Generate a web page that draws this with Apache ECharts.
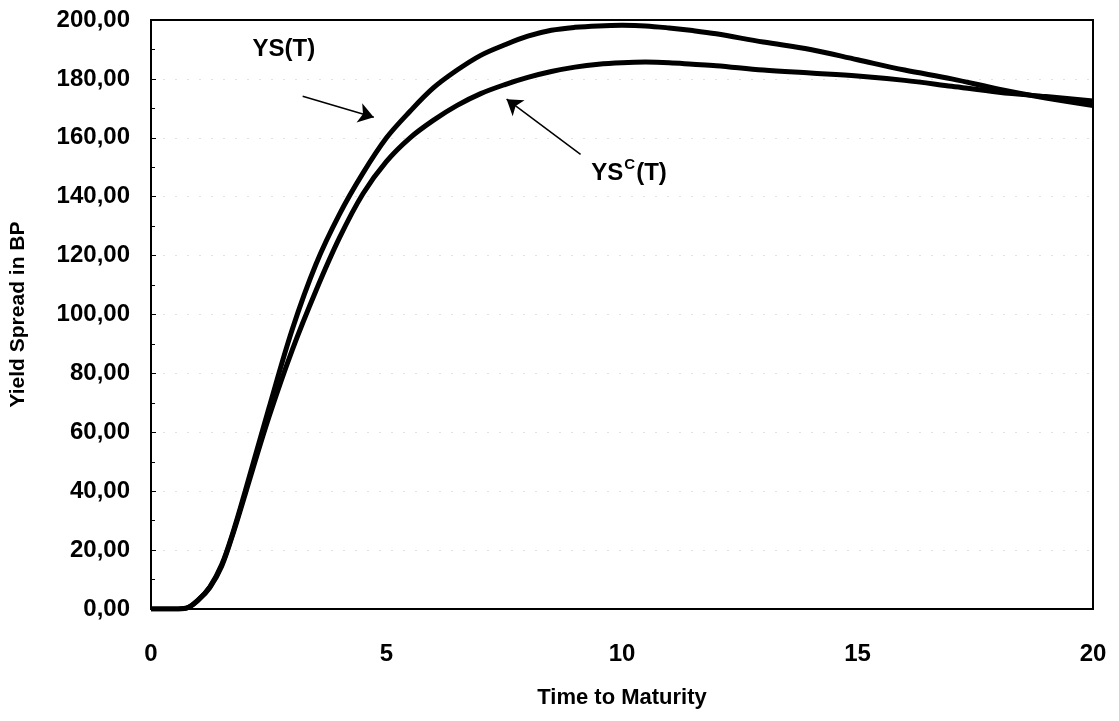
<!DOCTYPE html>
<html>
<head>
<meta charset="utf-8">
<script src="https://cdn.jsdelivr.net/npm/echarts@6/dist/echarts.min.js"></script>
<style>
html,body{margin:0;padding:0;background:#fff;}
#c{width:1119px;height:721px;}
</style>
</head>
<body>
<div id="c"></div>
<script>
// Time to maturity (years)
var tValues = [0, 0.5, 0.75, 1.0, 1.25, 1.5, 1.75, 2.0, 2.5, 3.0, 3.5, 4.0, 4.5, 5.0, 5.5, 6.0, 6.5, 7.0, 7.5, 8.0, 8.5, 9.0, 9.5, 10, 10.5, 11, 11.5, 12, 13, 14, 15, 16, 17, 18, 19, 20];
// YS(T) - upper curve
var ysValues = [0, 0, 0.3, 3, 7.5, 15, 26.5, 40, 68, 95, 117, 134, 148, 160, 169, 177, 183, 188, 191.5, 194.5, 196.5, 197.5, 198, 198.2, 198, 197.3, 196.4, 195.3, 192.5, 190, 186.5, 183, 180, 176.5, 173.5, 171];
// YS^C(T) - lower curve
var yscValues = [0, 0, 0.3, 3, 7.3, 14.5, 26, 39, 65, 88, 108, 126, 141, 152, 160, 166, 171, 175, 178, 180.5, 182.5, 184, 185, 185.5, 185.7, 185.5, 185, 184.5, 183, 182, 181, 179.5, 177.5, 175.5, 174, 172.5];
var yTickLabels = ['0,00','20,00','40,00','60,00','80,00','100,00','120,00','140,00','160,00','180,00','200,00'];

// annotation anchors in data coordinates
var ysArrow = [[3.22, 174.1], [4.73, 167.0]];
var yscArrow = [[9.12, 154.4], [7.55, 173.1]];
var ysLabelPos = [2.82, 190.1];
var yscLabelPos = [10.15, 148.5];

function pairs(xs, ys){ return xs.map(function(x,i){ return [x, ys[i]]; }); }

var chart = echarts.init(document.getElementById('c'), null, {renderer:'canvas'});
var fontFam = '"Liberation Sans", Arial, sans-serif';
var arrowLine = function(p){
  return {
    silent: true,
    symbol: ['none', 'arrow'],
    symbolSize: 15,
    label: {show: false},
    lineStyle: {color: '#000', width: 1.5, type: 'solid'},
    emphasis: {disabled: true},
    animation: false,
    data: [[{coord: p[0]}, {coord: p[1]}]]
  };
};
chart.setOption({
  animation: false,
  backgroundColor: '#fff',
  grid: {left: 151, right: 26, top: 20, bottom: 112, show: true, borderColor: '#000', borderWidth: 2, backgroundColor: 'transparent'},
  xAxis: {
    type: 'value', min: 0, max: 20, interval: 5,
    name: 'Time to Maturity', nameLocation: 'middle', nameGap: 78,
    nameTextStyle: {fontFamily: fontFam, fontWeight: 'bold', fontSize: 22, color: '#000'},
    axisLine: {show: true, lineStyle: {color: '#000', width: 2}},
    axisTick: {show: false},
    axisLabel: {fontFamily: fontFam, fontWeight: 'bold', fontSize: 24, color: '#000', margin: 33},
    splitLine: {show: false}
  },
  yAxis: {
    type: 'value', min: 0, max: 200, interval: 20,
    name: 'Yield Spread in BP', nameLocation: 'middle', nameGap: 122, nameRotate: 90,
    nameTextStyle: {fontFamily: fontFam, fontWeight: 'bold', fontSize: 21, color: '#000'},
    axisLine: {show: true, lineStyle: {color: '#000', width: 2}},
    axisTick: {show: true, inside: true, length: 5, lineStyle: {color: '#000', width: 1}},
    minorTick: {show: true, splitNumber: 2, length: 4, lineStyle: {color: '#000', width: 1}},
    axisLabel: {fontFamily: fontFam, fontWeight: 'bold', fontSize: 24, color: '#000', margin: 21,
      formatter: function(v){ return yTickLabels[Math.round(v/20)]; }},
    splitLine: {show: true, showMinLine: false, showMaxLine: false, lineStyle: {color: '#e2e2e2', width: 1, type: [2, 10]}}
  },
  series: [
    {
      name: 'YS(T)', type: 'line', smooth: 0.35, showSymbol: false, symbol: 'none',
      lineStyle: {color: '#000', width: 5}, z: 3,
      data: pairs(tValues, ysValues),
      markLine: arrowLine(ysArrow)
    },
    {
      name: 'YSC(T)', type: 'line', smooth: 0.35, showSymbol: false, symbol: 'none',
      lineStyle: {color: '#000', width: 5}, z: 3,
      data: pairs(tValues, yscValues),
      markLine: arrowLine(yscArrow)
    }
  ]
});

var p1 = chart.convertToPixel({gridIndex: 0}, ysLabelPos);
var p2 = chart.convertToPixel({gridIndex: 0}, yscLabelPos);
chart.setOption({
  graphic: [
    {type: 'text', x: p1[0], y: p1[1], silent: true,
     style: {text: 'YS(T)', font: 'bold 24px ' + fontFam, fill: '#000', align: 'center', verticalAlign: 'middle'}},
    {type: 'text', x: p2[0], y: p2[1], silent: true,
     style: {text: '{b|YS}{s|C}{b|(T)}', align: 'center', verticalAlign: 'middle', fill: '#000',
       rich: {
         b: {fontFamily: fontFam, fontWeight: 'bold', fontSize: 24, fill: '#000', lineHeight: 28, verticalAlign: 'bottom'},
         s: {fontFamily: fontFam, fontWeight: 'bold', fontSize: 15, fill: '#000', lineHeight: 28, verticalAlign: 'top', padding: [0,1,0,1]}
       }}}
  ]
});
</script>
</body>
</html>
